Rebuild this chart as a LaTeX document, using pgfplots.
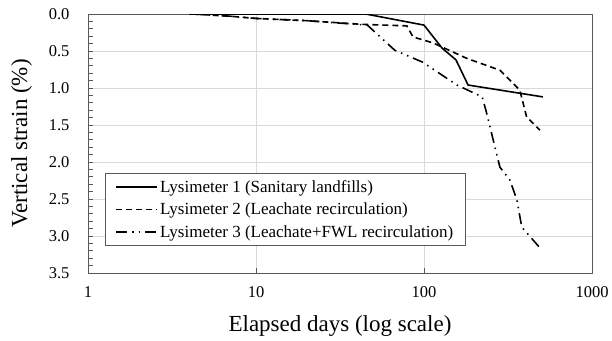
\documentclass[border=0pt]{standalone}
\usepackage{pgfplots}
\pgfplotsset{compat=1.18}
\usepackage{fontspec}
\setmainfont{Liberation Serif}
\definecolor{gridgray}{HTML}{D9D9D9}
\definecolor{framegray}{HTML}{595959}
\begin{document}
\begin{tikzpicture}
\useasboundingbox (-88pt,-67pt) rectangle (524pt,273pt);
\begin{axis}[
  at={(0pt,0pt)}, anchor=south west,
  scale only axis,
  width=504pt, height=259pt,
  xmode=log, log basis x=10,
  xmin=1, xmax=1000,
  ymin=0, ymax=3.5, y dir=reverse,
  ytick={0,0.5,...,3.5},
  minor y tick num=4,
  xtick={1,10,100,1000},
  xticklabels={1,10,100,1000},
  /pgf/number format/assume math mode=true,
  tick label style={font=\fontsize{16.5}{19}\selectfont},
  yticklabel style={anchor=east, xshift=-15pt, /pgf/number format/.cd, fixed, fixed zerofill, precision=1},
  xticklabel style={anchor=north, yshift=-10pt},
  xlabel={Elapsed days (log scale)},
  ylabel={Vertical strain (\%)},
  label style={font=\fontsize{23}{27}\selectfont},
  xlabel style={at={(axis description cs:0.5,-0.225)}, anchor=base},
  ylabel style={at={(axis description cs:-0.121,0.5)}, anchor=base},
  xmajorgrids, ymajorgrids,
  grid style={gridgray, line width=0.9pt},
  axis line style={framegray, line width=0.9pt},
  tick style={framegray, line width=0.7pt},
  major tick length=5pt, minor tick length=5pt,
  tick align=inside,
  xtick pos=bottom, ytick pos=left,
  legend style={at={(0.0337,0.386)}, anchor=north west, draw=framegray, line width=0.9pt,
    font=\fontsize{17}{20}\selectfont, row sep=5pt, inner xsep=10pt, inner ysep=5pt,
    nodes={inner xsep=2pt}},
  legend cell align=left,
  legend image code/.code={\draw[#1] (0pt,0pt) -- (41pt,0pt);},
]
\addplot[black, line width=1.6pt] coordinates {
 (4,0) (45,0) (100,0.15) (128,0.46) (155,0.62) (183,0.96) (510,1.12)
};
\addlegendentry{Lysimeter 1 (Sanitary landfills)}
\addplot[black, line width=1.6pt, dash pattern=on 6pt off 4pt] coordinates {
 (4.2,0) (7,0.03) (10,0.06) (20,0.09) (43,0.14) (79,0.16) (86,0.31) (113,0.39) (180,0.60) (283,0.76) (372,1.03) (408,1.39) (490,1.57)
};
\addlegendentry{Lysimeter 2 (Leachate recirculation)}
\addplot[black, line width=1.6pt, dash pattern=on 11pt off 5pt on 1.5pt off 5pt on 1.5pt off 5pt] coordinates {
 (4.2,0) (7,0.03) (10,0.06) (20,0.09) (46,0.15) (67,0.49) (98,0.65) (157,0.96) (222,1.12) (236,1.34) (258,1.70) (283,2.07) (324,2.24) (357,2.51) (382,2.88) (490,3.16)
};
\addlegendentry{Lysimeter 3 (Leachate+FWL recirculation)}
\end{axis}
\end{tikzpicture}
\end{document}
